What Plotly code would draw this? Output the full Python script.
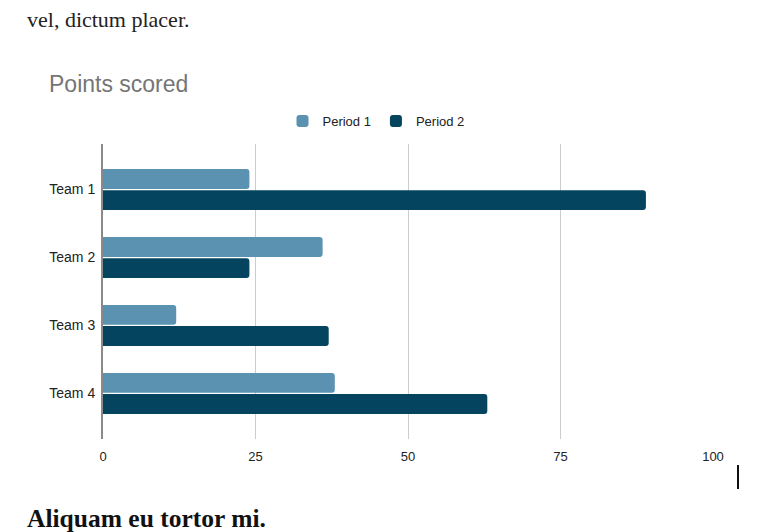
import plotly.graph_objects as go

teams = ["Team 1", "Team 2", "Team 3", "Team 4"]
period1 = [24, 36, 12, 38]
period2 = [89, 24, 37, 63]
x_ticks = [0, 25, 50, 75, 100]
series_names = ["Period 1", "Period 2"]
colors = ["#5b92b1", "#04445f"]

# page body has an 8px margin; work in page coordinates and shift
OFF = 8
W, H = 768 - OFF, 532 - OFF
L, R, T, B = 103 - OFF, 713 - OFF, 144 - OFF, 439 - OFF

def px(x):
    return (x - OFF - L) / (R - L)

def py(y):
    return (B - (y - OFF)) / (B - T)

fig = go.Figure()
for name, vals, c in zip(series_names, [period1, period2], colors):
    fig.add_trace(go.Bar(
        y=teams, x=vals, name=name, orientation="h",
        marker=dict(color=c, line=dict(width=0)),
        hoverinfo="skip",
    ))

fig.update_layout(
    width=W, height=H,
    margin=dict(l=L, r=W - R, t=T, b=H - B, pad=0),
    paper_bgcolor="white", plot_bgcolor="white",
    barmode="group", bargap=0.38, bargroupgap=0.06,
    barcornerradius=3,
    font=dict(family="Liberation Sans, Arial, sans-serif", color="#222222"),
    title=dict(
        text="Points scored", xref="container", yref="container",
        x=(49 - OFF) / W, xanchor="left", y=1 - (84 - OFF) / H, yanchor="middle",
        font=dict(family="Liberation Sans, Arial, sans-serif", size=23, color="#757575"),
    ),
    legend=dict(
        orientation="h", xref="paper", yref="paper",
        x=px(376), xanchor="center", y=py(121), yanchor="middle",
        font=dict(size=13, color="#222222"),
        itemwidth=30, traceorder="normal",
    ),
    showlegend=True,
    xaxis=dict(
        range=[0, 100], tickvals=x_ticks, ticktext=[str(v) for v in x_ticks],
        showgrid=True, gridcolor="#cccccc", gridwidth=1,
        zeroline=False, showline=False,
        tickfont=dict(size=13, color="#222222"),
        ticklabelstandoff=8,
        fixedrange=True,
    ),
    yaxis=dict(
        type="category", categoryorder="array", categoryarray=teams,
        range=[3.67, -0.67], autorange=False,
        showline=True, linecolor="#8a8a8a", linewidth=2,
        showgrid=False, zeroline=False,
        tickfont=dict(size=14, color="#222222"),
        ticklabelstandoff=3,
        fixedrange=True,
    ),
)

serif = "Liberation Serif, DejaVu Serif, serif"
fig.add_annotation(
    text="vel, dictum placer.", xref="paper", yref="paper",
    x=px(25), y=py(20), xanchor="left", yanchor="middle",
    showarrow=False, font=dict(family=serif, size=22, color="#222222"),
)
fig.add_annotation(
    text="<b>Aliquam eu tortor mi.</b>", xref="paper", yref="paper",
    x=px(25), y=py(518), xanchor="left", yanchor="middle",
    showarrow=False, font=dict(family=serif, size=25.5, color="#111111"),
)
fig.add_shape(
    type="line", xref="paper", yref="paper",
    x0=px(738), x1=px(738), y0=py(465), y1=py(489),
    line=dict(color="#111111", width=2),
)

fig.write_html("out.html", config={"displayModeBar": False})
